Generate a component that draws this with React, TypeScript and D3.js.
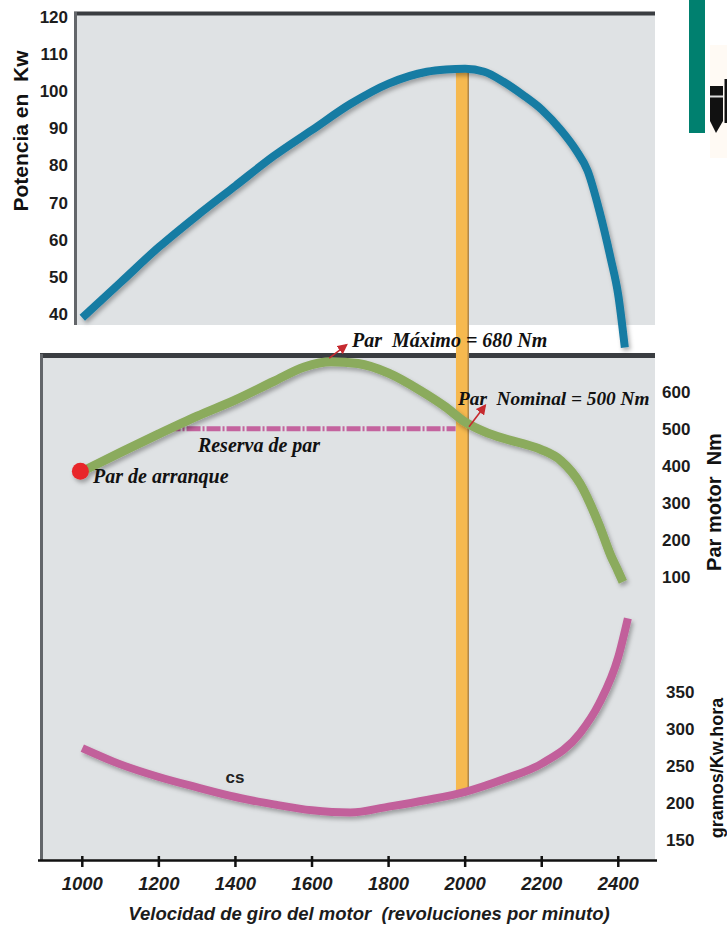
import React from "react";
import * as d3 from "d3";

// régimen del motor (rpm)
const RPM_TICKS = [1000, 1200, 1400, 1600, 1800, 2000, 2200, 2400];
const POWER_TICKS = [40, 50, 60, 70, 80, 90, 100, 110, 120];
const TORQUE_TICKS = [100, 200, 300, 400, 500, 600];
const CONSUMO_TICKS = [150, 200, 250, 300, 350];

// potencia (kW)
const powerRpm = [1000, 1100, 1200, 1300, 1400, 1500, 1600, 1700, 1800, 1900, 1950, 2000, 2050, 2100, 2150, 2200, 2250, 2290, 2320, 2350, 2380, 2400, 2417];
const powerKw = [39, 48.5, 58, 66.5, 74.5, 82.5, 89.5, 96.5, 102, 105.2, 105.8, 106, 105.2, 102.5, 99, 95, 89.5, 84, 78.5, 68, 55, 45, 31];

// par motor (Nm)
const torqueRpm = [1010, 1100, 1200, 1300, 1400, 1500, 1580, 1650, 1720, 1800, 1880, 1950, 2000, 2050, 2100, 2150, 2200, 2250, 2300, 2350, 2380, 2400, 2412];
const torqueNm = [390, 436, 486, 534, 578, 628, 667, 681, 676, 650, 605, 558, 518, 492, 474, 460, 443, 414, 352, 240, 158, 114, 86];

// consumo específico (g/kWh)
const consRpm = [1000, 1100, 1200, 1300, 1400, 1500, 1600, 1700, 1800, 1900, 2000, 2100, 2200, 2300, 2350, 2400, 2425];
const consGkwh = [274, 252, 235, 221, 208, 198, 190, 187, 195, 204, 215, 232, 253, 294, 334, 397, 449];

const PAR_ARRANQUE = { rpm: 995, nm: 385 };
const PAR_MAXIMO = { rpm: 1645, nm: 680 };
const PAR_NOMINAL = { rpm: 2010, nm: 500 };
const RESERVA = { from: 1220, to: 1975, nm: 500 };
const NOMINAL_BAND = { from: 1976, to: 2010 };

const SANS = "'Liberation Sans', Arial, sans-serif";
const SERIF = "'Liberation Serif', 'Times New Roman', serif";
const NB = "\u00a0";

const App = () => {
  const x = d3.scaleLinear().domain([1000, 2400]).range([82.3, 618.3]);
  const yPower = d3.scaleLinear().domain([40, 120]).range([314, 16.7]);
  const yTorque = d3.scaleLinear().domain([100, 600]).range([576.7, 391.7]);
  const yCons = d3.scaleLinear().domain([150, 350]).range([840, 691.7]);

  const curve = d3.curveMonotoneX;
  const powerLine = d3.line<number>().x((d, i) => x(powerRpm[i])).y((d) => yPower(d)).curve(curve);
  const torqueLine = d3.line<number>().x((d, i) => x(torqueRpm[i])).y((d) => yTorque(d)).curve(curve);
  const consLine = d3.line<number>().x((d, i) => x(consRpm[i])).y((d) => yCons(d)).curve(curve);

  const bandTop = yPower(105.5);
  const bandBottom = yCons(215);

  const maxX = x(PAR_MAXIMO.rpm), maxY = yTorque(PAR_MAXIMO.nm) - 4;
  const nomX = x(PAR_NOMINAL.rpm), nomY = yTorque(PAR_NOMINAL.nm) - 2;

  return (
    <svg width={727} height={925} style={{ position: "absolute", left: 0, top: 0 }}>
      <defs>
        <filter id="sh" filterUnits="userSpaceOnUse" x={0} y={0} width={727} height={925}>
          <feDropShadow dx={2} dy={3} stdDeviation={2} floodColor="#000" floodOpacity={0.3} />
        </filter>
        <marker id="arr" viewBox="0 0 10 10" refX={8} refY={5} markerWidth={6.5} markerHeight={6.5} orient="auto">
          <path d="M0,0 L10,5 L0,10 z" fill="#c62a2f" />
        </marker>
      </defs>
      <rect width={727} height={925} fill="#fff" />

      {/* logo fragment */}
      <rect x={689} y={0} width={16} height={133} fill="#00806f" />
      <rect x={710} y={45} width={17} height={113} fill="#fffaf4" />
      <path d="M710,86 H723 V121 L716,133 L710,121 Z" fill="#111" />
      <rect x={710} y={95.5} width={13} height={2} fill="#ddd" />
      <rect x={724.5} y={79} width={3} height={44} fill="#111" />

      {/* paneles */}
      <rect x={77} y={14} width={578} height={311} fill="#dfe2e4" />
      <line x1={74} x2={655} y1={13.5} y2={13.5} stroke="#3a3d41" strokeWidth={4} />
      <line x1={75.5} x2={75.5} y1={12} y2={325} stroke="#63666a" strokeWidth={3} />

      <rect x={42} y={356} width={613} height={504} fill="#dfe2e4" />
      <line x1={40} x2={655} y1={355.5} y2={355.5} stroke="#3a3d41" strokeWidth={5} />
      <line x1={41.5} x2={41.5} y1={354} y2={860} stroke="#63666a" strokeWidth={3} />

      {/* eje x */}
      <line x1={38} x2={657} y1={860.5} y2={860.5} stroke="#111" strokeWidth={2.5} />
      {RPM_TICKS.map((t) => (
        <g key={t}>
          <line x1={x(t)} x2={x(t)} y1={856} y2={867} stroke="#111" strokeWidth={2.5} />
          <text x={x(t)} y={890} textAnchor="middle" fontFamily={SANS} fontWeight="bold" fontStyle="italic" fontSize={18.5} fill="#1c1c1c">
            {t}
          </text>
        </g>
      ))}
      <text x={369} y={920} textAnchor="middle" fontFamily={SANS} fontWeight="bold" fontStyle="italic" fontSize={18.5} fill="#1c1c1c">
        {`Velocidad de giro del motor ${NB}(revoluciones por minuto)`}
      </text>

      {/* eje potencia */}
      {POWER_TICKS.map((t) => (
        <text key={t} x={68} y={yPower(t)} dy="0.36em" textAnchor="end" fontFamily={SANS} fontWeight="bold" fontSize={17} fill="#1c1c1c">
          {t}
        </text>
      ))}
      <text transform={`translate(28,131) rotate(-90)`} textAnchor="middle" fontFamily={SANS} fontWeight="bold" fontSize={21} fill="#111">
        {`Potencia en ${NB}Kw`}
      </text>

      {/* eje par */}
      {TORQUE_TICKS.map((t) => (
        <text key={t} x={662} y={yTorque(t)} dy="0.36em" fontFamily={SANS} fontWeight="bold" fontSize={17} fill="#1c1c1c">
          {t}
        </text>
      ))}
      <text transform={`translate(721,502) rotate(-90)`} textAnchor="middle" fontFamily={SANS} fontWeight="bold" fontSize={20} fill="#111">
        {`Par motor ${NB}Nm`}
      </text>

      {/* eje consumo */}
      {CONSUMO_TICKS.map((t) => (
        <text key={t} x={666} y={yCons(t)} dy="0.36em" fontFamily={SANS} fontWeight="bold" fontSize={17} fill="#1c1c1c">
          {t}
        </text>
      ))}
      <text transform={`translate(723,768) rotate(-90)`} textAnchor="middle" fontFamily={SANS} fontWeight="bold" fontSize={18} fill="#111">
        gramos/Kw.hora
      </text>

      {/* banda de régimen nominal */}
      <rect x={x(NOMINAL_BAND.from)} y={bandTop} width={x(NOMINAL_BAND.to) - x(NOMINAL_BAND.from)} height={bandBottom - bandTop} fill="#f6b94f" />
      <line x1={x(NOMINAL_BAND.to) - 0.75} x2={x(NOMINAL_BAND.to) - 0.75} y1={bandTop} y2={bandBottom} stroke="#b0874a" strokeWidth={1.5} />

      {/* reserva de par */}
      <line x1={x(RESERVA.from)} x2={x(RESERVA.to)} y1={yTorque(RESERVA.nm)} y2={yTorque(RESERVA.nm)} stroke="#c4639e" strokeWidth={5} strokeDasharray="14,2,2,2" />

      {/* curvas */}
      <g filter="url(#sh)" fill="none" strokeLinecap="butt" strokeLinejoin="round">
        <path d={powerLine(powerKw) ?? ""} stroke="#187ba3" strokeWidth={8} />
        <path d={torqueLine(torqueNm) ?? ""} stroke="#8bab5d" strokeWidth={9} />
        <path d={consLine(consGkwh) ?? ""} stroke="#c2619b" strokeWidth={8} />
        <circle cx={x(PAR_ARRANQUE.rpm)} cy={yTorque(PAR_ARRANQUE.nm)} r={8.5} fill="#e8262b" stroke="none" />
      </g>

      {/* flechas */}
      <line x1={maxX} y1={maxY} x2={maxX + 17} y2={maxY - 13} stroke="#c62a2f" strokeWidth={1.6} markerEnd="url(#arr)" />
      <line x1={nomX} y1={nomY} x2={nomX + 16} y2={nomY - 21} stroke="#c62a2f" strokeWidth={1.6} markerEnd="url(#arr)" />

      {/* anotaciones */}
      <g fontFamily={SERIF} fontWeight="bold" fontStyle="italic" fontSize={20} fill="#111">
        <text x={352} y={347}>{`Par ${NB}Máximo = 680 Nm`}</text>
        <text x={458} y={405} fontSize={19.3}>{`Par ${NB}Nominal = 500 Nm`}</text>
        <text x={259} y={452} textAnchor="middle">Reserva de par</text>
        <text x={93} y={483}>Par de arranque</text>
      </g>
      <text x={235} y={783} textAnchor="middle" fontFamily={SANS} fontWeight="bold" fontSize={17} fill="#222">
        cs
      </text>
    </svg>
  );
};

export default App;
